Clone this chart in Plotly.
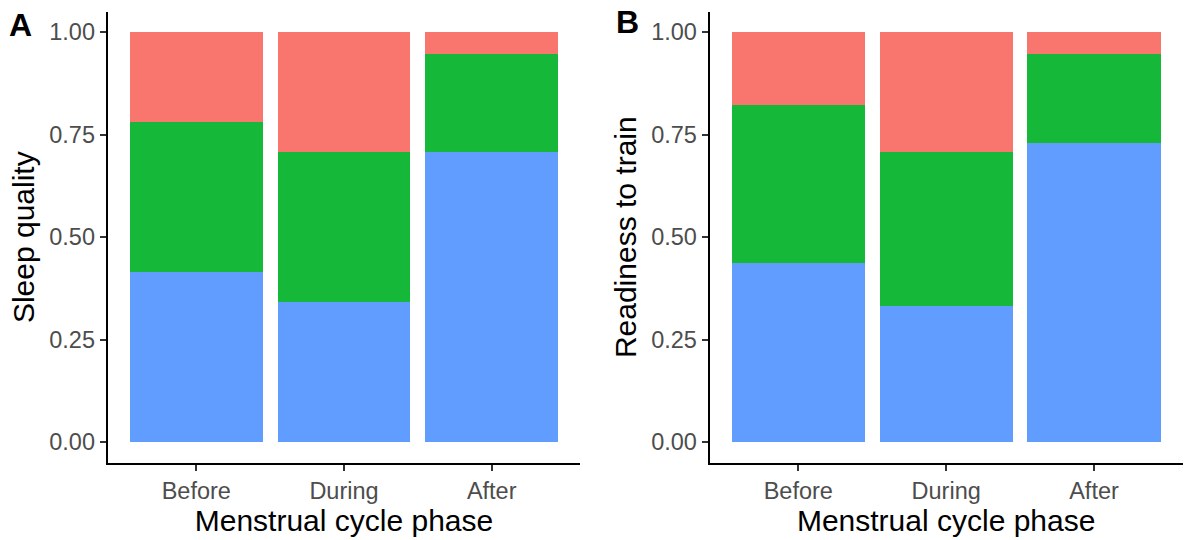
import plotly.graph_objects as go

phases = ["Before", "During", "After"]

# Panel A: Sleep quality (proportions, bottom to top: blue, green, red)
sleep_blue = [0.416, 0.343, 0.707]
sleep_green = [0.366, 0.364, 0.240]
sleep_red = [0.218, 0.293, 0.053]

# Panel B: Readiness to train
ready_blue = [0.437, 0.333, 0.729]
ready_green = [0.386, 0.374, 0.218]
ready_red = [0.177, 0.293, 0.053]

colors = {"blue": "#619CFF", "green": "#16B83A", "red": "#F8766D"}
y_ticks = [0, 0.25, 0.5, 0.75, 1.0]

fig = go.Figure()

panels = [
    ("x", "y", sleep_blue, sleep_green, sleep_red),
    ("x2", "y2", ready_blue, ready_green, ready_red),
]
for xa, ya, b, g, r in panels:
    for vals, col in ((b, "blue"), (g, "green"), (r, "red")):
        fig.add_trace(go.Bar(
            x=phases, y=vals, xaxis=xa, yaxis=ya,
            marker=dict(color=colors[col], line=dict(width=0)),
            showlegend=False, hoverinfo="x+y",
        ))

FAM = "Liberation Sans, Arial, sans-serif"
tick_font = dict(family=FAM, size=23.5, color="#4D4D4D")
title_font = dict(family=FAM, size=30, color="black")

def xaxis_cfg(domain, anchor):
    return dict(
        domain=domain, anchor=anchor, type="category",
        categoryorder="array", categoryarray=phases,
        range=[-0.6, 2.6],
        showline=True, linecolor="black", linewidth=2,
        ticks="outside", ticklen=6, tickwidth=1.5, tickcolor="#333333",
        tickfont=tick_font, showgrid=False, zeroline=False,
        title=dict(text="Menstrual cycle phase", font=title_font, standoff=4),
    )

def yaxis_cfg(anchor, title):
    return dict(
        domain=[1 - 462.7 / 540, 1 - 11.7 / 540], anchor=anchor,
        range=[-0.05, 1.05], tickvals=y_ticks, tickformat=".2f",
        showline=True, linecolor="black", linewidth=2,
        ticks="outside", ticklen=6, tickwidth=1.5, tickcolor="#333333",
        tickfont=tick_font, showgrid=False, zeroline=False,
        title=dict(text=title, font=title_font, standoff=6),
    )

fig.update_layout(
    width=1184, height=540,
    margin=dict(l=0, r=0, t=0, b=0),
    paper_bgcolor="white", plot_bgcolor="white",
    barmode="stack", bargap=0.1,
    showlegend=False,
    xaxis=xaxis_cfg([107.7 / 1184, 580.3 / 1184], "y"),
    yaxis=yaxis_cfg("x", "Sleep quality"),
    xaxis2=xaxis_cfg([709.6 / 1184, 1182.7 / 1184], "y2"),
    yaxis2=yaxis_cfg("x2", "Readiness to train"),
    annotations=[
        dict(text="<b>A</b>", x=20 / 1184, y=1 - 25 / 540, xref="paper", yref="paper",
             showarrow=False, font=dict(family=FAM, size=32, color="black"),
             xanchor="center", yanchor="middle"),
        dict(text="<b>B</b>", x=627 / 1184, y=1 - 22 / 540, xref="paper", yref="paper",
             showarrow=False, font=dict(family=FAM, size=32, color="black"),
             xanchor="center", yanchor="middle"),
    ],
)

fig.write_html("out.html")
